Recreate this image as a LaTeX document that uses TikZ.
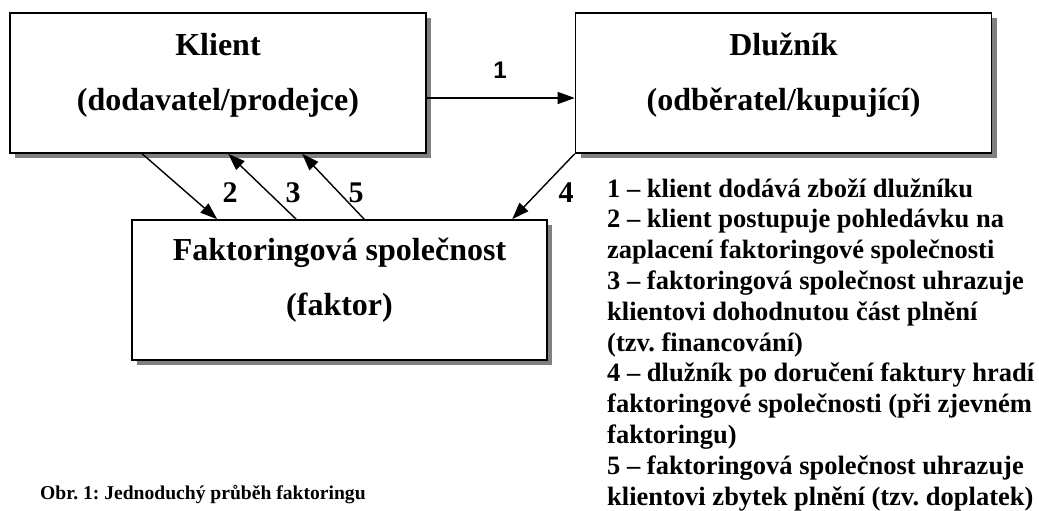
\documentclass[tikz,border=0pt]{standalone}
\usepackage{fontspec}
\setmainfont{Liberation Serif}
\newfontfamily\arialfont{Liberation Sans}
\usetikzlibrary{arrows.meta,shadows}
\frenchspacing

\tikzset{
  box/.style={draw,line width=1.6pt,fill=white,minimum width=416pt,minimum height=140pt,
    drop shadow={shadow xshift=5pt,shadow yshift=-5pt,fill=gray,opacity=1}},
  boxtext/.style={align=center,inner sep=0pt,font=\fontsize{32}{55}\selectfont\bfseries},
  flow/.style={line width=1.4pt,-{Triangle[length=17pt,width=12pt]}},
  num/.style={inner sep=0pt,font=\fontsize{30}{30}\selectfont\bfseries},
}

\begin{document}
\begin{tikzpicture}[x=1pt,y=-1pt]
\useasboundingbox (0,0) rectangle (1039,511);

% boxes
\node[box] (klient) at (218,83) {};
\node[box] (dluznik) at (783.5,83) {};
\node[box,minimum width=415pt] (faktor) at (339.5,290) {};

\node[boxtext] (klientText) at (218,75) {Klient\\(dodavatel/prodejce)};
\node[boxtext] (dluznikText) at (783.5,75) {Dlužník\\(odběratel/kupující)};
\node[boxtext] (faktorText) at (339.5,280) {Faktoringová společnost\\(faktor)};

% arrows
\draw[flow] ([yshift=-15pt]klient.east) -- ([yshift=-15pt]dluznik.west);
\draw[flow] ([xshift=133pt]klient.south west) -- ([xshift=86pt]faktor.north west);
\draw[flow] ([xshift=165pt]faktor.north west) -- ([xshift=219pt]klient.south west);
\draw[flow] ([xshift=233pt]faktor.north west) -- ([xshift=293pt]klient.south west);
\draw[flow] (dluznik.south west) -- ([xshift=381pt]faktor.north west);

% numbers
\node[inner sep=0pt,font=\arialfont\fontsize{24}{24}\selectfont\bfseries] (n1) at (500,70) {1};
\node[num] (n2) at (230,193) {2};
\node[num] (n3) at (293,193) {3};
\node[num] (n5) at (356,193) {5};
\node[num] (n4) at (566,193) {4};

% legend
\node[anchor=base west,align=left,inner sep=0pt,font=\fontsize{26.5}{30.8}\selectfont\bfseries] (legenda) at (607,505)
  {1 – klient dodává zboží dlužníku\\
   2 – klient postupuje pohledávku na\\
   zaplacení faktoringové společnosti\\
   3 – faktoringová společnost uhrazuje\\
   klientovi dohodnutou část plnění\\
   (tzv. financování)\\
   4 – dlužník po doručení faktury hradí\\
   faktoringové společnosti (při zjevném\\
   faktoringu)\\
   5 – faktoringová společnost uhrazuje\\
   klientovi zbytek plnění (tzv. doplatek)};

% caption
\node[anchor=base west,inner sep=0pt,font=\fontsize{19.6}{20}\selectfont\bfseries] (popis) at (40,499)
  {Obr. 1: Jednoduchý průběh faktoringu};

\end{tikzpicture}
\end{document}
